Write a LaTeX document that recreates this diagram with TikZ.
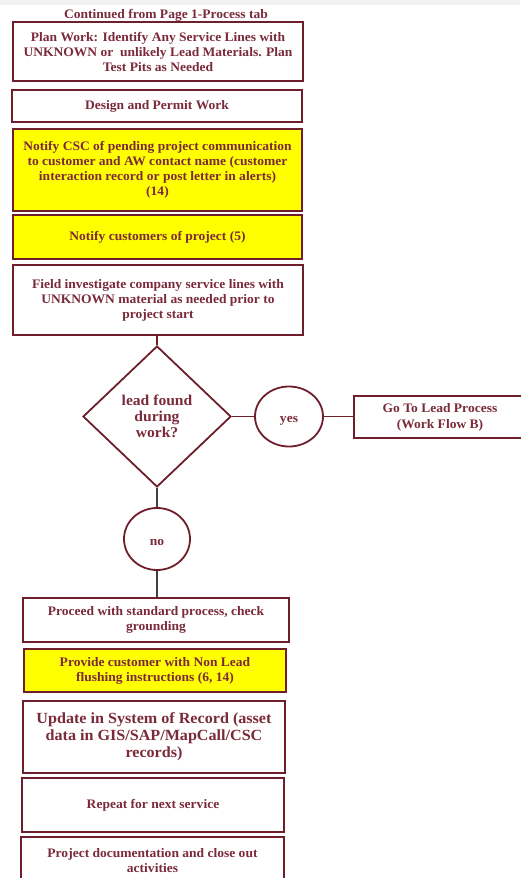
\documentclass[tikz,border=0pt]{standalone}
\usepackage{fontspec}
\setmainfont{Liberation Serif}[FakeStretch=1.04]
\usetikzlibrary{shapes.geometric}
\definecolor{wine}{HTML}{6E1F2B}
\definecolor{winetext}{HTML}{7A2A3A}
\definecolor{hilite}{HTML}{FFFF00}
\definecolor{band}{HTML}{F2F2F2}
\definecolor{link}{HTML}{404040}
\tikzset{
  stepbox/.style={draw=wine, line width=1.8pt, fill=white, text=winetext,
    font=\bfseries\fontsize{13}{15}\selectfont, align=center, inner sep=0pt},
  notebox/.style={stepbox, fill=hilite},
  decision/.style={diamond, draw=wine, line width=1.8pt, text=winetext, inner sep=0pt,
    font=\bfseries\fontsize{15}{16}\selectfont, align=center},
  answer/.style={ellipse, draw=wine, line width=1.8pt, text=winetext, inner sep=0pt,
    text height=12pt, text depth=0pt,
    font=\bfseries\fontsize{13}{14}\selectfont},
  flow/.style={draw=wine, line width=1.8pt},
  flowdark/.style={draw=link, line width=1.8pt}
}
\begin{document}
\begin{tikzpicture}[x=1pt,y=-1pt]
\useasboundingbox (0,0) rectangle (520,878);
\fill[band] (0,0) rectangle (520,5);

\node[text=winetext, font=\bfseries\fontsize{13}{15}\selectfont] (head) at (166,15) {Continued from Page 1-Process tab};

\node[stepbox, minimum width=290pt, minimum height=59pt] (plan) at (158,51.5)
  {Plan Work: Identify Any Service Lines with\\UNKNOWN or\ \ unlikely Lead Materials. Plan\\Test Pits as Needed};
\node[stepbox, minimum width=290pt, minimum height=32pt] (design) at (157,106) {Design and Permit Work};
\node[notebox, minimum width=289pt, minimum height=82pt] (csc) at (157.5,170)
  {Notify CSC of pending project communication\\to customer and AW contact name (customer\\interaction record or post letter in alerts)\\(14)};
\node[notebox, minimum width=289pt, minimum height=44pt] (notify) at (157.5,237) {Notify customers of project (5)};
\node[stepbox, minimum width=290pt, minimum height=70pt] (field) at (158,300)
  {Field investigate company service lines with\\UNKNOWN material as needed prior to\\project start};

\node[decision, minimum width=148pt, minimum height=141pt] (dia) at (157,416.5)
  {lead found\\during\\work?};
\node[answer, minimum width=68pt, minimum height=60pt] (yes) at (289,416.5) {yes};
\node[stepbox, minimum width=172pt, minimum height=42pt,
  font=\bfseries\fontsize{13}{16}\selectfont] (leadflow) at (440,417)
  {Go To Lead Process\\(Work Flow B)};
\node[answer, minimum width=66pt, minimum height=62pt] (no) at (157,539) {no};

\node[stepbox, minimum width=266pt, minimum height=44pt] (proceed) at (156,620)
  {Proceed with standard process, check\\grounding};
\node[notebox, minimum width=262pt, minimum height=43pt] (flush) at (155,670.5)
  {Provide customer with Non Lead\\flushing instructions (6, 14)};
\node[stepbox, minimum width=262pt, minimum height=72pt,
  font=\bfseries\fontsize{15.5}{17}\selectfont] (record) at (154,737)
  {Update in System of Record (asset\\data in GIS/SAP/MapCall/CSC\\records)};
\node[stepbox, minimum width=262pt, minimum height=54pt] (repeat) at (153,805) {Repeat for next service};
\node[stepbox, minimum width=263pt, minimum height=47pt] (closeout) at (152.5,860.5)
  {Project documentation and close out\\activities};

\draw[flow] (dia.north |- field.south) -- (dia.north);
\draw[flow] (dia.east) -- (yes.west);
\draw[flow] (yes.east) -- (yes.east -| leadflow.west);
\draw[flowdark] (dia.south) -- (no.north);
\draw[flowdark] (no.south) -- (no.south |- proceed.north);
\end{tikzpicture}
\end{document}
